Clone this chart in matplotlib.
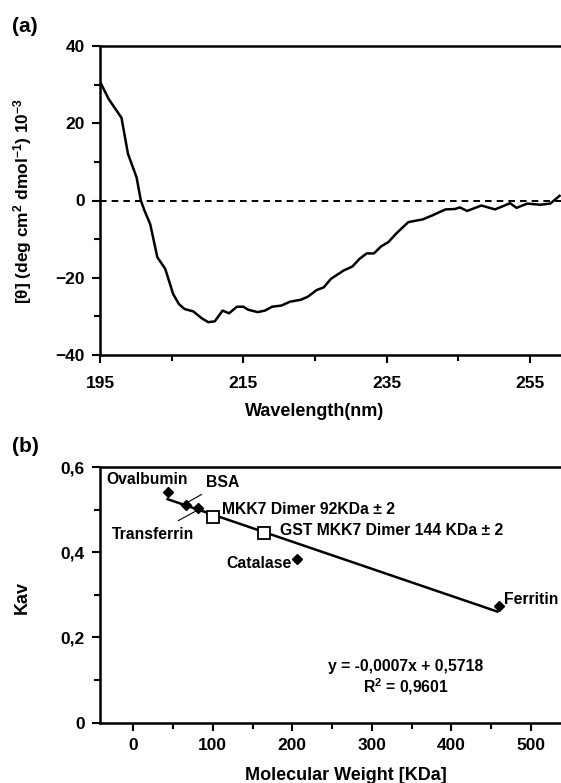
import numpy as np
import matplotlib
matplotlib.use("Agg")
import matplotlib.pyplot as plt

# ---- (a) CD spectrum ----
wavelength = [195.0, 196.2, 198.0, 198.9, 200.1, 200.7, 201.2, 202.0, 203.0, 204.1,
              205.2, 206.0, 206.8, 208.0, 209.2, 210.1, 211.0, 212.1, 213.0, 214.1,
              215.0, 215.7, 217.0, 218.0, 219.0, 220.3, 221.5, 223.0, 224.0, 225.2,
              226.2, 227.2, 229.0, 230.2, 231.2, 232.2, 233.2, 234.2, 235.2, 236.4,
              238.0, 240.0, 241.3, 243.2, 244.5, 245.2, 246.2, 248.2, 250.1, 252.2,
              253.1, 254.6, 256.4, 257.8, 258.9, 259.1]
ellipticity = [30.8, 26.3, 21.4, 12.1, 6.0, 0.0, -2.6, -6.1, -14.7, -17.7,
               -24.2, -26.8, -28.1, -28.7, -30.5, -31.5, -31.3, -28.5, -29.2, -27.5,
               -27.5, -28.3, -28.9, -28.5, -27.5, -27.2, -26.2, -25.7, -24.9, -23.2,
               -22.5, -20.3, -18.1, -17.1, -15.1, -13.7, -13.7, -11.9, -10.8, -8.4,
               -5.6, -4.9, -3.9, -2.3, -2.2, -1.8, -2.7, -1.3, -2.3, -0.7,
               -1.9, -0.8, -1.1, -0.8, 0.9, 1.2]

# ---- (b) gel filtration calibration ----
std_names = ["Ovalbumin", "BSA", "Transferrin", "Catalase", "Ferritin"]
std_mw = [43, 66, 81, 206, 460]
std_kav = [0.541, 0.512, 0.504, 0.385, 0.273]
sample_names = ["MKK7 Dimer 92KDa \u00b1 2", "GST MKK7 Dimer 144 KDa \u00b1 2"]
sample_mw = [100, 164]
sample_kav = [0.482, 0.444]
fit_text = "y = -0,0007x + 0,5718\nR$^{2}$ = 0,9601"

plt.rcParams['font.family'] = ['Liberation Sans', 'DejaVu Sans']
plt.rcParams['font.weight'] = 'bold'
plt.rcParams['mathtext.fontset'] = 'custom'
plt.rcParams['mathtext.rm'] = 'Liberation Sans:bold'
plt.rcParams['mathtext.bf'] = 'Liberation Sans:bold'
plt.rcParams['mathtext.default'] = 'bf'

fig = plt.figure(figsize=(5.61, 7.83), dpi=100)
W, H = 561.0, 783.0


def style_axes(ax, xpad):
    for s in ['left', 'bottom', 'top']:
        ax.spines[s].set_linewidth(1.8)
    ax.spines['right'].set_visible(False)
    ax.tick_params(which='both', direction='out', width=1.5, labelsize=12.5,
                   top=False, right=False)
    ax.tick_params(which='major', length=6, pad=5)
    ax.tick_params(axis='x', which='major', pad=xpad)
    ax.tick_params(which='minor', length=4)
    for lab in ax.get_xticklabels() + ax.get_yticklabels():
        lab.set_fontweight('bold')


# === panel (a)
ax1 = fig.add_axes([100 / W, 1 - 355 / H, 461 / W, 309 / H])
ax1.plot(wavelength, ellipticity, color='black', lw=1.8)
ax1.axhline(0, color='black', lw=1.4, ls=(0, (3.4, 2.6)))
ax1.set_xlim(195, 259.3)
ax1.set_ylim(-40, 40)
ax1.set_xticks([195, 215, 235, 255])
ax1.set_xticks([205, 225, 245], minor=True)
ax1.set_yticks([-40, -20, 0, 20, 40])
ax1.set_yticks([-30, -10, 10, 30], minor=True)
style_axes(ax1, 9)
ax1.set_xlabel("Wavelength(nm)", fontsize=13, fontweight='bold', va='center')
ax1.xaxis.set_label_coords(0.466, -0.183)
ax1.set_ylabel(r"[$\theta$] (deg cm$^{2}$ dmol$^{-1}$) 10$^{-3}$", fontsize=12.5,
               fontweight='bold')
ax1.yaxis.set_label_coords(-0.143, 0.5)

# === panel (b)
ax2 = fig.add_axes([100 / W, 1 - 722.7 / H, 461 / W, 255.7 / H])
coef = np.polyfit(std_mw, std_kav, 1)
fit_x = np.array([min(std_mw), max(std_mw) - 2])
ax2.plot(fit_x, np.polyval(coef, fit_x), color='black', lw=1.8)
ax2.plot(std_mw, std_kav, ls='none', marker='D', ms=5.5, color='black')
ax2.plot(sample_mw, sample_kav, ls='none', marker='s', ms=9, mfc='white',
         mec='black', mew=1.3)
ax2.set_xlim(-42, 538)
ax2.set_ylim(0, 0.6)
ax2.set_xticks([0, 100, 200, 300, 400, 500])
ax2.set_xticks([50, 150, 250, 350, 450], minor=True)
ax2.set_yticks([0, 0.2, 0.4, 0.6])
ax2.set_yticklabels(["0", "0,2", "0,4", "0,6"])
ax2.set_yticks([0.1, 0.3, 0.5], minor=True)
style_axes(ax2, 5)
ax2.set_xlabel("Molecular Weight [KDa]", fontsize=13, fontweight='bold', va='center')
ax2.xaxis.set_label_coords(0.534, -0.205)
ax2.set_ylabel("Kav", fontsize=13, fontweight='bold')
ax2.yaxis.set_label_coords(-0.15, 0.49)

fs = 11.3
ax2.text(-34, 0.571, std_names[0], fontsize=fs, fontweight='bold', va='center', ha='left')
ax2.annotate(std_names[1], xy=(69, 0.518), xytext=(91, 0.563), fontsize=fs,
             fontweight='bold', va='center', ha='left',
             arrowprops=dict(arrowstyle='-', lw=0.8, color='black', shrinkA=2, shrinkB=0))
ax2.annotate(std_names[2], xy=(79, 0.497), xytext=(25, 0.442), fontsize=fs,
             fontweight='bold', va='center', ha='center',
             arrowprops=dict(arrowstyle='-', lw=0.8, color='black', shrinkA=5, shrinkB=0))
ax2.text(199, 0.373, std_names[3], fontsize=fs, fontweight='bold', va='center', ha='right')
ax2.text(466, 0.289, std_names[4], fontsize=fs, fontweight='bold', va='center', ha='left')
ax2.text(112, 0.500, sample_names[0], fontsize=fs, fontweight='bold', va='center', ha='left')
ax2.text(184, 0.451, sample_names[1], fontsize=fs, fontweight='bold', va='center', ha='left')
ax2.text(343, 0.104, fit_text, fontsize=fs, fontweight='bold', va='center', ha='center',
         linespacing=1.15)

fig.text(12 / W, 1 - 27 / H, "(a)", fontsize=15, fontweight='bold', va='center', ha='left')
fig.text(12 / W, 1 - 446 / H, "(b)", fontsize=15, fontweight='bold', va='center', ha='left')

fig.savefig("out.png", dpi=100)
